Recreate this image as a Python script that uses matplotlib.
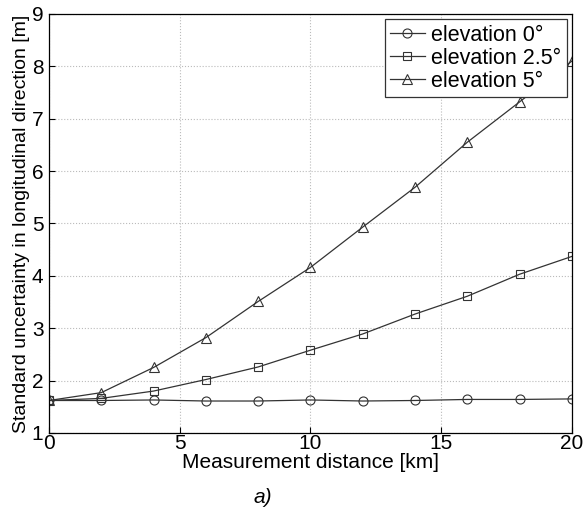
import matplotlib
matplotlib.use("Agg")
import matplotlib.pyplot as plt

# measurement distance [km]
distance = [0, 2, 4, 6, 8, 10, 12, 14, 16, 18, 20]

# standard uncertainty [m] per elevation angle
elev_0 = [1.62, 1.62, 1.63, 1.61, 1.61, 1.63, 1.61, 1.62, 1.64, 1.64, 1.65]
elev_25 = [1.62, 1.66, 1.80, 2.02, 2.26, 2.58, 2.89, 3.27, 3.61, 4.03, 4.37]
elev_5 = [1.62, 1.77, 2.25, 2.82, 3.51, 4.16, 4.93, 5.69, 6.55, 7.32, 8.10]

labels = ["elevation 0\u00b0", "elevation 2.5\u00b0", "elevation 5\u00b0"]

plt.rcParams['font.family'] = ['Liberation Sans', 'DejaVu Sans']

fig = plt.figure(figsize=(5.83, 5.13), dpi=100)
ax = fig.add_axes([0.084, 0.156, 0.897, 0.817])

mk = dict(color='#333333', lw=0.9, markerfacecolor='none',
          markeredgecolor='#333333', markeredgewidth=0.8)
ax.plot(distance, elev_0, marker='o', markersize=6.5, label=labels[0], **mk)
ax.plot(distance, elev_25, marker='s', markersize=5.5, label=labels[1], **mk)
ax.plot(distance, elev_5, marker='^', markersize=7.5, label=labels[2], **mk)

ax.set_xlim(0, 20)
ax.set_ylim(1, 9)
ax.set_xticks([0, 5, 10, 15, 20])
ax.set_yticks(range(1, 10))
ax.tick_params(labelsize=15, direction='in', length=4)
ax.tick_params(axis='x', pad=1)
ax.tick_params(axis='y', pad=4)
ax.grid(True, linestyle=':', color='#bbbbbb', linewidth=0.8)
for s in ax.spines.values():
    s.set_linewidth(0.9)

ax.set_xlabel("Measurement distance [km]", fontsize=15, labelpad=0)
ax.set_ylabel("Standard uncertainty in longitudinal direction [m]", fontsize=14, labelpad=1)

leg = ax.legend(loc='upper right', fontsize=15.5, fancybox=False, framealpha=1,
                edgecolor='#333333', borderaxespad=0.25, handlelength=1.6,
                handletextpad=0.3, labelspacing=0.1, borderpad=0.25)
leg.get_frame().set_linewidth(0.9)

fig.text(0.45, 0.02, "a)", fontsize=15, style='italic', ha='center')

fig.savefig("out.png", dpi=100)
